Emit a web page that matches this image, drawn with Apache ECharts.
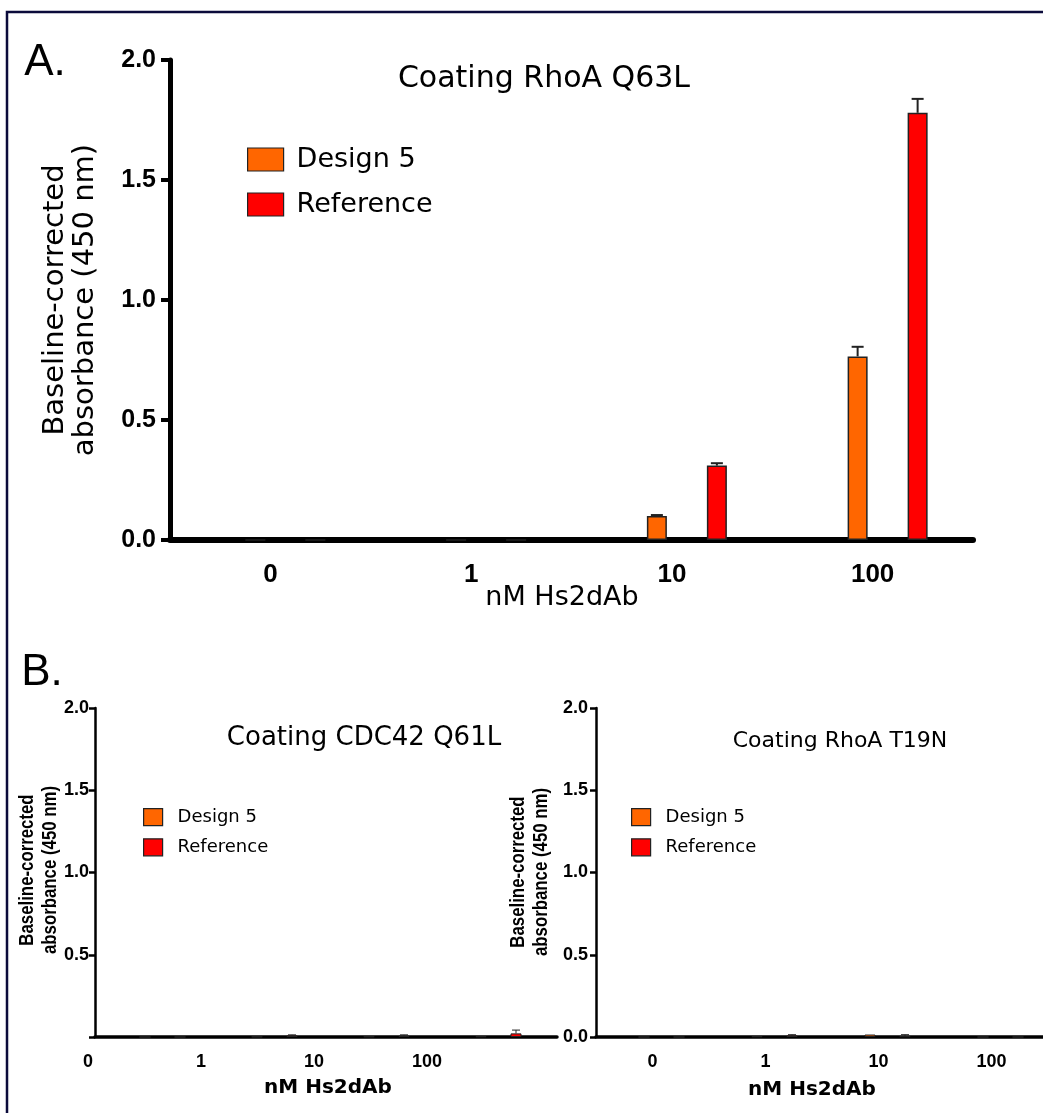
<!DOCTYPE html>
<html><head><meta charset="utf-8">
<script src="https://cdn.jsdelivr.net/npm/echarts@6/dist/echarts.min.js"></script>
<style>html,body{margin:0;padding:0;background:#fff}#c{width:1043px;height:1113px}</style>
</head><body><div id="c"></div>
<script>
// ---------- data ----------
const categories = ['0', '1', '10', '100'];
const seriesNames = ['Design 5', 'Reference'];
// Panel A: Coating RhoA Q63L
const aDesign5 = [0, 0, 0.10, 0.765];
const aDesign5Err = [0, 0, 0.004, 0.04];
const aReference = [0, 0, 0.31, 1.78];
const aReferenceErr = [0, 0, 0.01, 0.058];
// Panel B left: Coating CDC42 Q61L
const bLeftDesign5 = [0, 0.002, 0.003, 0.004];
const bLeftDesign5Err = [0, 0, 0, 0];
const bLeftReference = [0, 0.010, 0.008, 0.022];
const bLeftReferenceErr = [0, 0.003, 0.005, 0.02];
// Panel B right: Coating RhoA T19N
const bRightDesign5 = [0, 0.004, 0.015, 0];
const bRightDesign5Err = [0, 0, 0, 0];
const bRightReference = [0, 0.010, 0.004, 0];
const bRightReferenceErr = [0, 0.004, 0.010, 0];

// ---------- styles ----------
const ORANGE = '#FF6600', RED = '#FF0000', INK = '#000';
const ARIAL = '"Liberation Sans", Arial, sans-serif';
const DEJAVU = '"DejaVu Sans", Verdana, sans-serif';

const chart = echarts.init(document.getElementById('c'), null, {renderer: 'canvas'});

const grids = [
  {left: 170, top: 60, width: 803, height: 480},    // 0 A axes + labels
  {left: 185, top: 60, width: 803, height: 480},    // 1 A bars
  {left: 95, top: 708, width: 462, height: 329},    // 2 B-left axes
  {left: 31.5, top: 708, width: 452, height: 329},  // 3 B-left labels
  {left: 106.5, top: 708, width: 448, height: 329}, // 4 B-left bars
  {left: 596, top: 708, width: 452, height: 329},   // 5 B-right axes + labels
  {left: 605, top: 708, width: 452, height: 329}    // 6 B-right bars
].map(g => Object.assign({outerBoundsMode: 'none', containLabel: false}, g));

function hiddenX(gi) { return {type: 'category', gridIndex: gi, data: categories, show: false}; }
function hiddenY(gi) { return {type: 'value', gridIndex: gi, min: 0, max: 2, interval: 0.5, show: false}; }

const xAxes = [
  {type: 'category', gridIndex: 0, data: categories,
   axisLine: {show: true, lineStyle: {color: INK, width: 6}},
   axisTick: {show: false},
   axisLabel: {show: true, margin: 22, color: INK, fontFamily: ARIAL, fontWeight: 'bold', fontSize: 26}},
  hiddenX(1),
  {type: 'category', gridIndex: 2, data: categories,
   axisLine: {show: true, lineStyle: {color: INK, width: 3.5}},
   axisTick: {show: false}, axisLabel: {show: false}},
  {type: 'category', gridIndex: 3, data: categories,
   axisLine: {show: false}, axisTick: {show: false},
   axisLabel: {show: true, margin: 16, color: INK, fontFamily: ARIAL, fontWeight: 'bold', fontSize: 18}},
  hiddenX(4),
  {type: 'category', gridIndex: 5, data: categories,
   axisLine: {show: true, lineStyle: {color: INK, width: 3.5}},
   axisTick: {show: false},
   axisLabel: {show: true, margin: 16, color: INK, fontFamily: ARIAL, fontWeight: 'bold', fontSize: 18}},
  hiddenX(6)
];

const yAxes = [
  {type: 'value', gridIndex: 0, min: 0, max: 2, interval: 0.5,
   splitLine: {show: false},
   axisLine: {show: true, lineStyle: {color: INK, width: 5}},
   axisTick: {show: true, length: 9, lineStyle: {color: INK, width: 4}},
   axisLabel: {margin: 14, color: INK, fontFamily: ARIAL, fontWeight: 'bold', fontSize: 25,
               formatter: v => v.toFixed(1)}},
  hiddenY(1),
  {type: 'value', gridIndex: 2, min: 0, max: 2, interval: 0.5,
   splitLine: {show: false},
   axisLine: {show: true, lineStyle: {color: INK, width: 2.5}},
   axisTick: {show: true, length: 6, lineStyle: {color: INK, width: 2.5}},
   axisLabel: {margin: 6, color: INK, fontFamily: ARIAL, fontWeight: 'bold', fontSize: 18,
               formatter: v => v === 0 ? '' : v.toFixed(1)}},
  hiddenY(3),
  hiddenY(4),
  {type: 'value', gridIndex: 5, min: 0, max: 2, interval: 0.5,
   splitLine: {show: false},
   axisLine: {show: true, lineStyle: {color: INK, width: 2.5}},
   axisTick: {show: true, length: 6, lineStyle: {color: INK, width: 2.5}},
   axisLabel: {margin: 8, color: INK, fontFamily: ARIAL, fontWeight: 'bold', fontSize: 18,
               formatter: v => v.toFixed(1)}},
  hiddenY(6)
];

function barSeries(name, data, color, gi, barWidth, barGap, bw) {
  return {type: 'bar', name, data, xAxisIndex: gi, yAxisIndex: gi,
          barWidth, barGap, silent: true, z: 3,
          itemStyle: {color, borderColor: '#222', borderWidth: bw}};
}
function errSeries(vals, errs, gi, offset, capW, lw) {
  return {type: 'custom', xAxisIndex: gi, yAxisIndex: gi, silent: true, z: 4,
    data: vals.map((v, i) => [i, v, errs[i]]),
    renderItem(params, api) {
      const i = api.value(0), v = api.value(1), e = api.value(2);
      if (!e) return null;
      const base = api.coord([i, v]);
      const top = api.coord([i, v + e]);
      const x = base[0] + offset;
      return {type: 'group', children: [
        {type: 'line', shape: {x1: x, y1: base[1], x2: x, y2: top[1]}, style: {stroke: '#222', lineWidth: lw}},
        {type: 'line', shape: {x1: x - capW / 2, y1: top[1], x2: x + capW / 2, y2: top[1]}, style: {stroke: '#222', lineWidth: lw}}
      ]};
    }};
}

const series = [
  barSeries(seriesNames[0], aDesign5, ORANGE, 1, 20, '200%', 1.5),
  barSeries(seriesNames[1], aReference, RED, 1, 20, '200%', 1.5),
  errSeries(aDesign5, aDesign5Err, 1, -30, 12, 2),
  errSeries(aReference, aReferenceErr, 1, 30, 12, 2),
  barSeries(seriesNames[0], bLeftDesign5, ORANGE, 4, 11, '218%', 1),
  barSeries(seriesNames[1], bLeftReference, RED, 4, 11, '218%', 1),
  errSeries(bLeftDesign5, bLeftDesign5Err, 4, -17.5, 8, 1),
  errSeries(bLeftReference, bLeftReferenceErr, 4, 17.5, 8, 1),
  barSeries(seriesNames[0], bRightDesign5, ORANGE, 6, 11, '218%', 1),
  barSeries(seriesNames[1], bRightReference, RED, 6, 11, '218%', 1),
  errSeries(bRightDesign5, bRightDesign5Err, 6, -17.5, 8, 1),
  errSeries(bRightReference, bRightReferenceErr, 6, 17.5, 8, 1)
];

function legend(left, top, iw, ih, gap, fs, pad) {
  return {data: seriesNames, orient: 'vertical', left, top, padding: 0,
          itemWidth: iw, itemHeight: ih, itemGap: gap,
          icon: 'rect', selectedMode: false,
          itemStyle: {borderColor: '#222', borderWidth: 1.2},
          textStyle: {fontFamily: DEJAVU, fontSize: fs, color: INK, padding: [0, 0, 0, pad]}};
}

function txt(text, x, y, font, extra) {
  return Object.assign({type: 'text', x, y, silent: true,
    style: Object.assign({text, align: 'center', verticalAlign: 'middle', fill: INK}, font)}, extra || {});
}

const graphic = [
  {type: 'rect', silent: true, shape: {x: 7, y: 12, width: 1200, height: 1300},
   style: {fill: 'none', stroke: '#0b0b3b', lineWidth: 2.5}},
  txt('A.', 45, 63, {font: '44px ' + ARIAL}),
  txt('B.', 42, 673, {font: '44px ' + ARIAL}),
  txt('Coating RhoA Q63L', 544, 79, {font: '30px ' + DEJAVU}),
  txt('Baseline-corrected\nabsorbance (450 nm)', 70, 300, {font: '29px ' + DEJAVU, lineHeight: 30}, {rotation: Math.PI / 2}),
  txt('nM Hs2dAb', 562, 598, {font: '27px ' + DEJAVU}),
  txt('Coating CDC42 Q61L', 364, 738, {font: '26px ' + DEJAVU}),
  txt('Coating RhoA T19N', 840, 741, {font: '22px ' + DEJAVU}),
  txt('Baseline-corrected\nabsorbance (450 nm)', 39, 870, {font: 'bold 21px ' + ARIAL, lineHeight: 23},
      {rotation: Math.PI / 2, scaleX: 0.8}),
  txt('Baseline-corrected\nabsorbance (450 nm)', 530, 872, {font: 'bold 21px ' + ARIAL, lineHeight: 23},
      {rotation: Math.PI / 2, scaleX: 0.8}),
  txt('nM Hs2dAb', 328, 1088, {font: 'bold 20px ' + DEJAVU}),
  txt('nM Hs2dAb', 812, 1090, {font: 'bold 20px ' + DEJAVU})
];

chart.setOption({
  animation: false,
  backgroundColor: '#fff',
  grid: grids,
  xAxis: xAxes,
  yAxis: yAxes,
  legend: [
    legend(247, 146, 36, 23, 18, 27, 8),
    legend(143, 808, 19, 17, 12, 18, 10),
    legend(631, 808, 19, 17, 12, 18, 10)
  ],
  series,
  graphic
});
</script>
</body></html>
